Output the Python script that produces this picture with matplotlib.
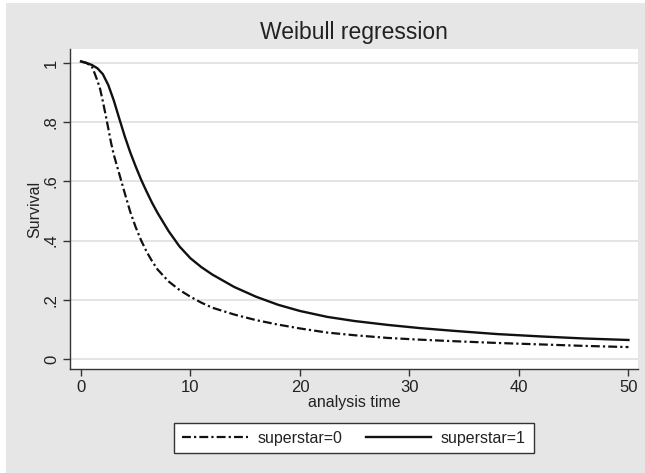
import matplotlib
matplotlib.use("Agg")
import matplotlib.pyplot as plt
from matplotlib.patches import Rectangle

plt.rcParams['font.family'] = ['Liberation Sans', 'DejaVu Sans']

title = "Weibull regression"
x_label = "analysis time"
y_label = "Survival"
series_names = ["superstar=0", "superstar=1"]

t0 = [0, 0.5, 1.0, 1.25, 1.5, 1.75, 2.0, 2.25, 2.5, 2.75, 3.0, 3.25, 3.5, 4.0, 4.5,
      5.0, 5.5, 6.0, 6.5, 7.0, 8.0, 9.0, 10, 11, 12, 14, 16, 18, 20, 22.5, 25, 28,
      31, 34, 38, 42, 46, 50]
s0 = [1.005, 1.0, 0.987, 0.965, 0.94, 0.912, 0.87, 0.825, 0.778, 0.73, 0.69, 0.657,
      0.625, 0.56, 0.497, 0.445, 0.40, 0.362, 0.33, 0.302, 0.262, 0.233, 0.210, 0.190,
      0.173, 0.150, 0.131, 0.116, 0.103, 0.089, 0.080, 0.071, 0.065, 0.060, 0.054,
      0.049, 0.044, 0.040]

t1 = [0, 0.5, 1.0, 1.5, 2.0, 2.5, 3.0, 3.5, 4.0, 4.5, 5.0, 5.5, 6.0, 6.5, 7.0, 8.0,
      9.0, 10, 11, 12, 14, 16, 18, 20, 22.5, 25, 28, 31, 34, 38, 42, 46, 50]
s1 = [1.005, 1.0, 0.993, 0.982, 0.962, 0.925, 0.873, 0.812, 0.752, 0.698, 0.65, 0.605,
      0.565, 0.527, 0.493, 0.432, 0.38, 0.34, 0.31, 0.285, 0.243, 0.210, 0.183, 0.162,
      0.142, 0.128, 0.115, 0.104, 0.095, 0.084, 0.076, 0.069, 0.064]

x_ticks = [0, 10, 20, 30, 40, 50]
x_ticklabels = ["0", "10", "20", "30", "40", "50"]
y_ticks = [0, 0.2, 0.4, 0.6, 0.8, 1.0]
y_ticklabels = ["0", ".2", ".4", ".6", ".8", "1"]

W, H = 645, 473
fig = plt.figure(figsize=(W / 100, H / 100), dpi=100, facecolor="white")
# outer gray region
fig.patches.append(Rectangle((6 / W, 0), 1 - 6 / W, 1 - 3 / H, transform=fig.transFigure,
                             facecolor="#e6e6e6", edgecolor="none", zorder=-10))

ax = fig.add_axes([70 / W, 1 - 369 / H, (638 - 70) / W, (369 - 49) / H])
ax.set_zorder(1)
ax.set_facecolor("white")
ax.set_xlim(-1.0, 50.87)
ax.set_ylim(-0.034, 1.047)

for y in y_ticks:
    ax.axhline(y, color="#e2e2e2", lw=1.3, zorder=1)

ax.plot(t0, s0, color="#111111", lw=1.6, dashes=(4.0, 1.4, 1.0, 1.4),
        label=series_names[0], zorder=3)
ax.plot(t1, s1, color="#111111", lw=1.7, label=series_names[1], zorder=3)

for side in ["top", "right"]:
    ax.spines[side].set_visible(False)
for side in ["left", "bottom"]:
    ax.spines[side].set_color("#333333")
    ax.spines[side].set_linewidth(1.0)

ax.set_xticks(x_ticks)
ax.set_xticklabels(x_ticklabels)
ax.set_yticks(y_ticks)
ax.set_yticklabels(y_ticklabels, rotation=90, va="center")
ax.tick_params(axis="both", direction="out", length=5, width=1.0, color="#333333",
               labelsize=12, labelcolor="#222222", pad=3)

ax.set_xlabel(x_label, fontsize=11.5, color="#222222", labelpad=0)
ax.set_ylabel(y_label, fontsize=11.5, color="#222222", labelpad=1)

fig.text((70 + 638) / 2 / W, 1 - 33 / H, title, ha="center", va="center",
         fontsize=16.5, color="#222222")

leg = ax.legend(loc="center", bbox_to_anchor=(354 / W, 1 - 438 / H),
                bbox_transform=fig.transFigure, ncol=2, frameon=True, fancybox=False,
                edgecolor="#333333", facecolor="white", framealpha=1, fontsize=11.5,
                handlelength=4.1, handletextpad=0.6, columnspacing=1.45,
                borderpad=0.5, borderaxespad=0)
leg.get_frame().set_linewidth(1.0)
for txt in leg.get_texts():
    txt.set_color("#222222")

fig.savefig("out.png", dpi=100, facecolor=fig.get_facecolor())
